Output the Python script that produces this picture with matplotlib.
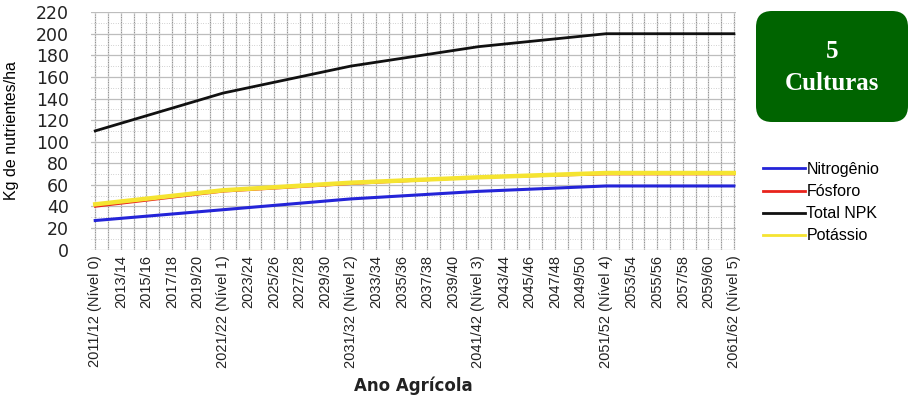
import matplotlib
matplotlib.use("Agg")
import matplotlib.pyplot as plt
from matplotlib.patches import FancyBboxPatch
from matplotlib.lines import Line2D

# Crop years 2011/12 .. 2061/62
years = [f"{y}/{(y + 1) % 100:02d}" for y in range(2011, 2062)]
level_years = ["2011/12", "2021/22", "2031/32", "2041/42", "2051/52", "2061/62"]
level_names = ["Nível 0", "Nível 1", "Nível 2", "Nível 3", "Nível 4", "Nível 5"]

# Nutrient demand at each level (kg/ha)
nitrogenio = [27, 37, 47, 54, 59, 59]
fosforo = [40, 54, 61, 67, 70, 70]
total_npk = [110, 145, 170, 188, 200, 200]
potassio = [42, 55, 62, 67, 71, 71]

yticks = list(range(0, 221, 20))

tick_labels = []
for y in years[::2]:
    if y in level_years:
        tick_labels.append(f"{y} ({level_names[level_years.index(y)]})")
    else:
        tick_labels.append(y)

plt.rcParams["font.family"] = ["Liberation Sans", "DejaVu Sans"]

fig = plt.figure(figsize=(9.14, 4.04), dpi=100)
ax = fig.add_axes([0.100, 0.382, 0.705, 0.588])

xs = [years.index(y) for y in level_years]

# grid: one line per crop year, light solid with a darker dotted overlay
for i in range(len(years)):
    ax.axvline(i, color="#d2d2d2", lw=1.0, zorder=0)
    ax.axvline(i, color="#7a7a7a", lw=0.6, ls=(0, (1, 2)), zorder=0)
for v in yticks:
    ax.axhline(v, color="#bdbdbd", lw=0.9, zorder=0)
    ax.axhline(v + 10, color="#a8a8a8", lw=0.5, ls=(0, (1, 2.5)), zorder=0)

ax.plot(xs, total_npk, color="#111111", lw=2.0, zorder=3, label="Total NPK")
ax.plot(xs, fosforo, color="#e8231c", lw=1.8, zorder=3, label="Fósforo")
ax.plot(xs, potassio, color="#f5e431", lw=3.2, zorder=4, label="Potássio")
ax.plot(xs, nitrogenio, color="#2424d8", lw=2.2, zorder=5, label="Nitrogênio")

ax.set_xlim(-0.3, len(years) - 1 + 0.15)
ax.set_ylim(0, 220)
ax.set_yticks(yticks)
ax.set_yticklabels([str(v) for v in yticks], fontsize=12.5, color="#222222",
                   family="DejaVu Sans")
ax.set_xticks(range(0, len(years), 2))
ax.set_xticklabels(tick_labels, rotation=90, fontsize=10.5, color="#222222")
ax.tick_params(axis="x", length=0, pad=4)
ax.tick_params(axis="y", length=0, pad=16)
for s in ax.spines.values():
    s.set_visible(False)

ax.set_ylabel("Kg de nutrientes/ha", fontsize=11.5, labelpad=12)
fig.text(0.452, 0.045, "Ano Agrícola", ha="center", va="center",
         fontsize=12, fontweight="bold", color="#222222", family="DejaVu Sans")

# legend
handles = [Line2D([], [], color="#2424d8", lw=2),
           Line2D([], [], color="#e8231c", lw=2),
           Line2D([], [], color="#111111", lw=2),
           Line2D([], [], color="#f5e431", lw=2)]
labels = ["Nitrogênio", "Fósforo", "Total NPK", "Potássio"]
fig.legend(handles, labels, loc="upper left", bbox_to_anchor=(0.828, 0.615),
           frameon=False, fontsize=11.5, handlelength=2.6, handletextpad=0.1,
           labelspacing=0.45, borderaxespad=0)

# badge
box = FancyBboxPatch((756, 282), 152, 111, boxstyle="round,pad=0,rounding_size=16",
                     transform=None, facecolor="#006400", edgecolor="none")
fig.patches.append(box)
fig.text(832 / 914, 1 - 51 / 404, "5", ha="center", va="center", color="white",
         fontsize=18, fontweight="bold", family="Liberation Serif")
fig.text(832 / 914, 1 - 84 / 404, "Culturas", ha="center", va="center", color="white",
         fontsize=18, fontweight="bold", family="Liberation Serif")

fig.savefig("out.png", dpi=100)
